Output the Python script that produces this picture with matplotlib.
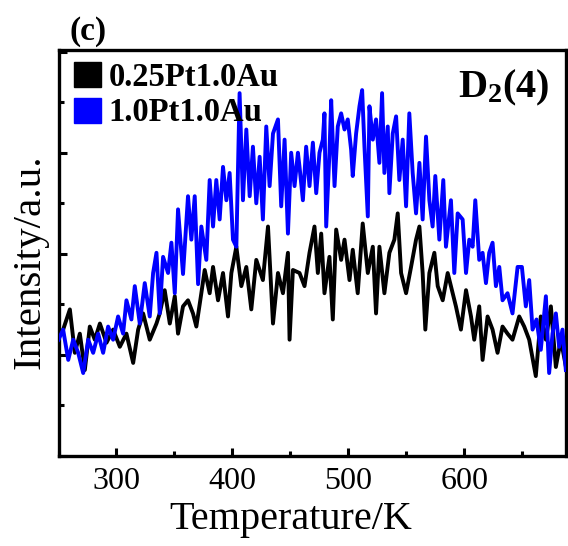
import matplotlib
matplotlib.use('Agg')
import matplotlib.pyplot as plt
from matplotlib.patches import Patch
from matplotlib.ticker import MultipleLocator

# 0.25Pt1.0Au (black) - temperature / K and intensity / a.u.
temp_black = [250, 254, 259.8, 264.1, 268.4, 272.7, 277, 281.3, 285.7, 291.4, 297.1,
              302.9, 308.6, 314.4, 318.7, 323, 328.7, 334.5, 337.3, 341.6, 346,
              350.3, 353.1, 357.4, 361.7, 366, 368.9, 373.2, 376.1, 380.4, 383.3,
              387.6, 391.9, 396.2, 399.1, 403.4, 407.7, 412, 416.3, 420.6, 426.3,
              430.7, 435, 439.3, 443.6, 447.9, 449.3, 452.2,
              457.9, 462.2, 466.5, 470.8, 473.7, 476.6, 479.4, 483.7, 486.6, 489.5,
              493.8, 496.7, 501, 503.8, 508.1, 512.4, 516.8, 521.1, 523.9, 526.8,
              531.1, 535.4, 539.7, 542.6, 545.5, 549.8, 554.1, 558.4, 561.3, 564.1,
              566.4, 569.9, 574.2, 577.1, 581.4, 585.7, 590, 592.8, 597.1, 601.5,
              605.8, 608.6, 612.9, 615.8, 620.1, 624.4, 628.7, 633, 637.3, 641.6,
              647.4, 651.7, 656, 661.7, 666, 670.4, 674.7, 679, 683.3, 687.7]
int_black = [1.20, 1.25, 1.45, 1.02, 1.21, 0.85, 1.28, 1.15, 1.31, 1.12, 1.25,
             1.08, 1.21, 0.92, 1.25, 1.41, 1.15, 1.31, 1.41, 1.64, 1.31,
             1.58, 1.21, 1.48, 1.54, 1.41, 1.28, 1.61, 1.84, 1.61, 1.87,
             1.54, 1.81, 1.38, 1.81, 2.07, 1.68, 1.87, 1.45, 1.94, 1.74,
             2.27, 1.31, 1.81, 1.61, 2.01, 1.15, 1.84,
             1.81, 1.68, 2.01, 2.27, 1.81, 2.20, 1.61, 1.97, 1.35, 2.24,
             1.94, 2.14, 1.74, 2.04, 1.61, 2.30, 1.81, 2.07, 1.41, 2.07,
             1.61, 2.01, 2.14, 2.40, 1.81, 1.61, 1.87, 2.14, 2.27, 1.81,
             1.25, 1.81, 2.01, 1.68, 1.54, 1.81, 1.61, 1.48, 1.25, 1.64,
             1.38, 1.15, 1.48, 0.95, 1.38, 1.25, 1.02, 1.28, 1.21, 1.15,
             1.38, 1.28, 1.15, 0.79, 1.38, 1.15, 1.48, 0.88, 1.15, 0.88]

# 1.0Pt1.0Au (blue)
temp_blue = [250, 254, 258.4, 262.7, 267, 271.3, 275.6, 279.9, 284.2, 288.5, 292.8,
             297.1, 301.4, 305.7, 308.6, 312.9, 315.8, 320.1, 324.4, 328.7, 331.6,
             334.5, 337.3, 340.2, 344.5, 347.4, 350.3, 353.1, 357.4, 361.7, 364.6,
             367.5, 370.4, 373.2, 377.5, 380.4, 383.3, 386.1, 389, 391.9, 394.8,
             397.6, 400.5, 403.4, 406.2, 409.1, 412, 414.9, 417.7, 420.6, 423.5,
             426.3, 429.2, 432.1, 435, 439.3, 442.1, 445, 447.9, 450.7, 453.6, 456.5,
             457.9, 460.8, 463.6, 466.5, 469.4, 472.3, 475.1, 478, 479.4, 480.9,
             483.7, 485.2, 488.1, 490.9, 493.8, 496.7, 499.5, 502.4, 503.8, 506.7,
             509.6, 511.9, 513.9, 516.8, 518.2, 521.1, 523.9, 526.8, 529.1, 531.1,
             534, 535.4, 538.3, 541.2, 544, 546.9, 549.8, 552.6, 555.5, 558.4,
             561.3, 564.1, 567, 569.9, 572.7, 575, 578.5, 581.9, 584.2, 588.5,
             591.4, 594.3, 598.6, 601.5, 604.3, 607.2, 609.5, 612.9, 615.8, 618.7,
             621.5, 624.4, 627.3, 630.2, 633, 637.3, 641.6, 646, 649.7, 653.1,
             656, 658.9, 662.3, 666, 670.4, 673.2, 676.1, 679, 681.8, 684.7, 687.6]
int_blue = [1.15, 1.25, 0.95, 1.15, 1.02, 0.82, 1.15, 1.02, 1.21, 1.02, 1.28,
            1.15, 1.38, 1.21, 1.54, 1.35, 1.68, 1.31, 1.71, 1.38, 1.81,
            2.01, 1.41, 1.97, 1.81, 2.11, 1.61, 2.44, 1.80, 2.57, 2.14,
            2.57, 1.70, 2.27, 1.94, 2.73, 2.27, 2.73, 2.34, 2.86, 2.53,
            2.80, 2.14, 2.07, 3.59, 2.53, 3.23, 2.57, 3.06, 2.50, 2.96,
            2.34, 3.26, 2.67, 3.19, 3.33, 2.47, 3.13, 2.20, 3.00, 2.67, 3.00,
            2.86, 2.53, 3.06, 2.67, 3.10, 2.60, 3.00, 3.13, 3.39, 2.27,
            3.00, 3.52, 2.67, 3.26, 3.39, 3.23, 3.33, 3.03, 2.77, 3.19,
            3.46, 3.62, 3.06, 2.37, 3.46, 3.13, 3.33, 2.90, 3.59, 2.80,
            3.26, 2.60, 3.19, 3.36, 2.73, 3.13, 2.47, 3.39, 2.80, 2.40,
            2.90, 2.34, 3.16, 2.53, 2.27, 2.77, 2.14, 2.73, 2.07, 2.53,
            1.81, 2.40, 2.34, 1.81, 2.14, 2.07, 2.53, 1.94, 2.01, 1.71,
            2.01, 2.11, 1.68, 1.87, 1.54, 1.61, 1.41, 1.87, 1.87, 1.48,
            1.74, 1.25, 1.35, 1.05, 1.58, 0.82, 1.21, 1.41, 1.08, 1.25, 0.85]

labels = ['0.25Pt1.0Au', '1.0Pt1.0Au']
colors = ['black', '#0000FF']
x_ticks = [300, 400, 500, 600]

plt.rcParams['font.family'] = ['Liberation Serif', 'DejaVu Serif']
plt.rcParams['mathtext.fontset'] = 'custom'
plt.rcParams['mathtext.rm'] = 'Liberation Serif'
plt.rcParams['mathtext.bf'] = 'Liberation Serif:bold'

fig = plt.figure(figsize=(5.68, 5.46), dpi=100)
ax = fig.add_axes([0.103, 0.165, 0.894, 0.744])

ax.plot(temp_black, int_black, color=colors[0], linewidth=2.8, zorder=2)
ax.plot(temp_blue, int_blue, color=colors[1], linewidth=2.8, zorder=3)

ax.set_xlim(250, 688)
ax.set_ylim(0, 4.02)
ax.set_xticks(x_ticks)
ax.xaxis.set_minor_locator(MultipleLocator(50))
ax.yaxis.set_major_locator(MultipleLocator(1))
ax.yaxis.set_minor_locator(MultipleLocator(0.5))
ax.set_yticklabels([])
ax.tick_params(which='both', direction='in', width=2.2, top=False, right=False)
ax.tick_params(which='major', length=6, labelsize=23, pad=8)
ax.tick_params(which='minor', length=3.5)
for sp in ax.spines.values():
    sp.set_linewidth(2.4)

ax.set_xlabel('Temperature/K', fontsize=29)
ax.xaxis.set_label_coords(0.458, -0.112)
ax.set_ylabel('Intensity/a.u.', fontsize=29.5)
ax.yaxis.set_label_coords(-0.02, 0.478)

handles = [Patch(facecolor=c, edgecolor=c) for c in colors]
ax.legend(handles, labels, loc='upper left', frameon=False,
          prop={'weight': 'bold', 'size': 23.5}, handlelength=0.8, handleheight=0.8,
          handletextpad=0.25, labelspacing=0.15, borderaxespad=0.1,
          borderpad=0.2, bbox_to_anchor=(0.012, 0.995))

ax.text(0.968, 0.956, r'$\mathbf{D_2(4)}$', transform=ax.transAxes,
        fontsize=29, ha='right', va='top')
fig.text(0.123, 0.97, '(c)', fontsize=24, fontweight='bold', ha='left', va='top')

fig.savefig('out.png', dpi=100)
